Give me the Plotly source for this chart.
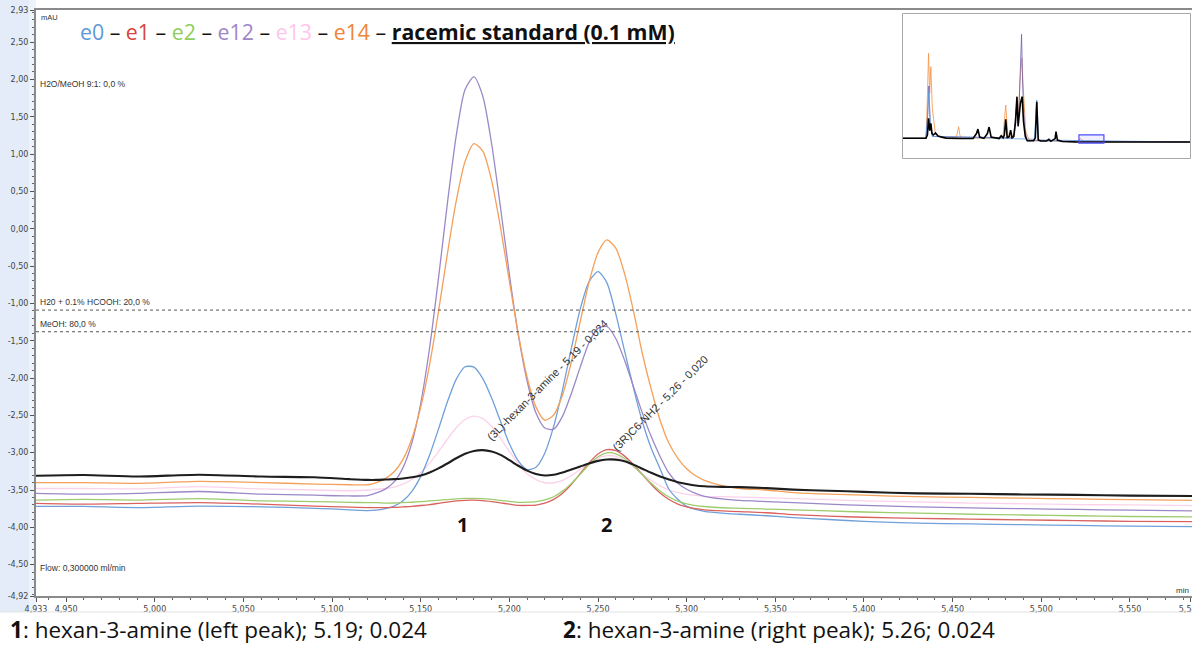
import plotly.graph_objects as go

# ---------------- data ----------------
time_min = [4.933, 4.96, 4.99, 5.025, 5.06, 5.09, 5.11, 5.12, 5.125,
            5.13, 5.135, 5.14, 5.145, 5.15, 5.155, 5.16, 5.165, 5.17, 5.175,
            5.18, 5.185, 5.19, 5.195, 5.20, 5.205, 5.21, 5.215, 5.22, 5.225,
            5.23, 5.235, 5.24, 5.245, 5.25, 5.255, 5.26, 5.265, 5.27, 5.275,
            5.28, 5.285, 5.29, 5.295, 5.30, 5.305, 5.31,
            5.32, 5.33, 5.345, 5.36, 5.38, 5.40, 5.43, 5.46, 5.49, 5.52, 5.55, 5.585]

e0 = [-3.72, -3.72, -3.735, -3.715, -3.725, -3.745, -3.765, -3.775, -3.77,
      -3.75, -3.715, -3.645, -3.517, -3.317, -3.032, -2.685, -2.321, -2.018, -1.849,
      -1.855, -2.009, -2.269, -2.58, -2.88, -3.11, -3.226, -3.196, -3.004, -2.645,
      -2.154, -1.595, -1.071, -0.705, -0.575, -0.725, -1.14, -1.64, -2.135, -2.585,
      -2.94, -3.215, -3.49, -3.625, -3.72, -3.76, -3.785,
      -3.81, -3.825, -3.845, -3.87, -3.895, -3.92, -3.945, -3.955, -3.965, -3.975, -3.985, -3.99]

e1 = [-3.68, -3.69, -3.68, -3.67, -3.69, -3.715, -3.73, -3.735, -3.735,
      -3.735, -3.733, -3.726, -3.719, -3.708, -3.695, -3.678, -3.661, -3.647, -3.638,
      -3.637, -3.643, -3.656, -3.672, -3.69, -3.706, -3.707, -3.702, -3.677, -3.626,
      -3.543, -3.423, -3.279, -3.133, -3.017, -2.96, -2.974, -3.046, -3.161, -3.294,
      -3.426, -3.54, -3.627, -3.688, -3.727, -3.751, -3.765,
      -3.78, -3.79, -3.805, -3.83, -3.85, -3.865, -3.88, -3.89, -3.90, -3.91, -3.92, -3.925]

e2 = [-3.635, -3.625, -3.635, -3.615, -3.645, -3.655, -3.665, -3.67, -3.67,
      -3.675, -3.674, -3.669, -3.664, -3.657, -3.647, -3.638, -3.628, -3.618, -3.613,
      -3.612, -3.615, -3.625, -3.638, -3.652, -3.665, -3.663, -3.656, -3.633, -3.591,
      -3.515, -3.411, -3.287, -3.158, -3.055, -3.003, -3.015, -3.078, -3.178, -3.295,
      -3.41, -3.514, -3.594, -3.649, -3.687, -3.708, -3.721,
      -3.738, -3.745, -3.755, -3.765, -3.78, -3.795, -3.81, -3.825, -3.835, -3.845, -3.855, -3.86]

e12 = [-3.545, -3.555, -3.545, -3.52, -3.555, -3.57, -3.58, -3.575, -3.54,
       -3.489, -3.392, -3.20, -2.868, -2.339, -1.594, -0.665, 0.335, 1.245, 1.865,
       2.035, 1.775, 1.135, 0.281, -0.613, -1.42, -2.04, -2.47, -2.67, -2.685,
       -2.51, -2.203, -1.851, -1.521, -1.335, -1.31, -1.47, -1.765, -2.115, -2.47,
       -2.785, -3.05, -3.275, -3.41, -3.49, -3.545, -3.585,
       -3.62, -3.64, -3.655, -3.67, -3.69, -3.705, -3.725, -3.74, -3.75, -3.76, -3.77, -3.78]

e13 = [-3.48, -3.48, -3.485, -3.455, -3.485, -3.50, -3.51, -3.50, -3.49,
       -3.48, -3.46, -3.422, -3.36, -3.267, -3.14, -2.985, -2.82, -2.667, -2.556,
       -2.51, -2.543, -2.65, -2.81, -2.983, -3.147, -3.283, -3.36, -3.403, -3.403,
       -3.37, -3.305, -3.226, -3.141, -3.073, -3.039, -3.05, -3.105, -3.19, -3.285,
       -3.37, -3.445, -3.50, -3.535, -3.56, -3.572, -3.585,
       -3.59, -3.595, -3.605, -3.615, -3.63, -3.645, -3.66, -3.675, -3.685, -3.695, -3.70, -3.71]

e14 = [-3.40, -3.40, -3.41, -3.385, -3.40, -3.42, -3.43, -3.43, -3.40,
       -3.347, -3.255, -3.09, -2.81, -2.39, -1.82, -1.11, -0.34, 0.37, 0.90,
       1.14, 1.04, 0.642, 0.016, -0.704, -1.41, -1.99, -2.39, -2.565, -2.495,
       -2.225, -1.78, -1.24, -0.71, -0.32, -0.15, -0.26, -0.605, -1.105, -1.675,
       -2.15, -2.565, -2.875, -3.075, -3.215, -3.31, -3.37,
       -3.44, -3.48, -3.50, -3.535, -3.555, -3.57, -3.59, -3.60, -3.61, -3.62, -3.63, -3.64]

racemic = [-3.31, -3.30, -3.32, -3.295, -3.32, -3.33, -3.355, -3.365, -3.365,
           -3.36, -3.355, -3.345, -3.33, -3.305, -3.265, -3.21, -3.145, -3.075, -3.015,
           -2.977, -2.966, -2.985, -3.03, -3.10, -3.175, -3.24, -3.285, -3.305, -3.295,
           -3.265, -3.225, -3.185, -3.145, -3.11, -3.092, -3.093, -3.115, -3.16, -3.215,
           -3.27, -3.32, -3.36, -3.395, -3.42, -3.44, -3.45,
           -3.458, -3.462, -3.475, -3.495, -3.51, -3.525, -3.545, -3.55, -3.56, -3.565, -3.575, -3.58]

series_names = ["e0", "e1", "e2", "e12", "e13", "e14", "racemic standard (0.1 mM)"]
series_colors = ["#6fa0da", "#d9625f", "#9dcc6c", "#9b88c8", "#fcd2ea", "#f4a05a", "#1e1e1e"]
legend_colors = ["#5b9bd5", "#d64541", "#8fce5c", "#9e86c9", "#ffc6ea", "#ee8438"]

x_tick_vals = [4.933, 4.95, 5.0, 5.05, 5.1, 5.15, 5.2, 5.25, 5.3, 5.35, 5.4, 5.45, 5.5, 5.55, 5.584]
x_tick_labels = ["4,933", "4,950", "5,000", "5,050", "5,100", "5,150", "5,200", "5,250",
                 "5,300", "5,350", "5,400", "5,450", "5,500", "5,550", "5,584"]
y_tick_vals = [-4.92, -4.5, -4.0, -3.5, -3.0, -2.5, -2.0, -1.5, -1.0, -0.5, 0.0,
               0.5, 1.0, 1.5, 2.0, 2.5, 2.93]
y_tick_labels = ["-4,92", "-4,50", "-4,00", "-3,50", "-3,00", "-2,50", "-2,00", "-1,50",
                 "-1,00", "-0,50", "0,00", "0,50", "1,00", "1,50", "2,00", "2,50", "2,93"]

gradient_levels = [-1.09, -1.38]
gradient_labels = ["H20 + 0.1% HCOOH: 20,0 %", "MeOH: 80,0 %"]

peak_ids = ["1", "2"]
peak_id_x = [5.1738, 5.2545]
peak_id_y = -3.96

peak_tags = ["(3L)-hexan-3-amine - 5,19 - 0,024", "(3R)C6-NH2 - 5,26 - 0,020"]
peak_tag_x = [5.2215, 5.2850]
peak_tag_y = [-2.03, -2.33]

# overview inset (thumbnail of the whole run, arbitrary units)
inset_black_x = [0, 8.0, 8.5, 8.9, 9.3, 9.7, 10.1, 10.6, 11.3, 12.2, 13.5, 15, 20, 24.4, 25.6, 26.1,
                 26.7, 28.2, 29.4, 30.0, 30.7, 33.5, 34.2, 34.9, 35.3, 35.8, 36.3, 37.0, 37.5, 38.0,
                 38.6, 39.2, 39.7, 40.1, 40.5, 40.9, 41.5, 42.0, 42.6, 43.3, 45.5, 46.1, 46.6, 47.1,
                 48, 50, 50.8, 51.5, 53.0, 53.3, 53.8, 55.5, 60, 100]
inset_black_y = [13.7, 13.7, 16, 27.6, 19, 24.1, 17, 16, 17.4, 15.2, 14.5, 13.8, 13.6, 13.6, 17, 20.1,
                 14.5, 13.6, 17, 21.5, 14.5, 13.5, 15.5, 14, 16, 26.9, 14, 15, 19.4, 14,
                 15, 25, 42.6, 22, 30, 38, 42.6, 25, 15, 12, 12, 14, 39.1, 12.5,
                 11.8, 11.8, 13, 11.6, 13.5, 18.3, 12.5, 11.5, 11.2, 11.1]
inset_orange_x = [0, 8.0, 8.4, 8.9, 9.3, 9.7, 10.2, 10.6, 11.2, 12.5, 18.5, 19.4, 19.8, 20.3, 21,
                  34.8, 35.8, 36.6, 38.8, 39.6, 40.2, 40.8, 41.4, 42.0, 42.8, 44, 60.5, 61.8, 62.4,
                  63.0, 70, 100]
inset_orange_y = [13.7, 13.7, 35, 72.7, 45, 63.4, 35, 27.8, 18, 15, 13.8, 21.7, 16, 13.8, 13.7,
                  14, 36.8, 14, 16, 40, 30, 55, 69.4, 45, 18, 12.5, 11.6, 13.5, 12.5,
                  11.5, 11.2, 11.1]
inset_purple_x = [0, 8.0, 8.6, 9.0, 9.5, 10.3, 38.5, 39.5, 40.3, 40.9, 41.3, 41.7, 42.3, 43.2, 100]
inset_purple_y = [13.7, 13.7, 30, 50, 22, 15, 14, 35, 28, 60, 85.9, 50, 22, 12, 11.1]
inset_blue_x = [0, 8.0, 8.6, 9.0, 9.5, 10.3, 45.8, 46.6, 47.3, 100]
inset_blue_y = [13.7, 13.7, 30, 46, 24, 15, 13, 40.3, 12.5, 11.1]
inset_window_x = [61.3, 70.0]
inset_window_y = [10.4, 16.0]

# ---------------- figure ----------------
fig = go.Figure()
all_series = [e0, e1, e2, e12, e13, e14, racemic]
order = [4, 0, 1, 2, 3, 5, 6]
for i in order:
    fig.add_trace(go.Scatter(
        x=time_min, y=all_series[i], mode="lines", name=series_names[i],
        line=dict(color=series_colors[i], width=2.1 if i == 6 else 1.3,
                  shape="spline", smoothing=0.7),
        hoverinfo="skip", xaxis="x", yaxis="y"))

for xs, ys, col, w in [(inset_orange_x, inset_orange_y, "rgba(244,150,80,0.85)", 1.0),
                       (inset_purple_x, inset_purple_y, "rgba(110,95,175,0.8)", 1.0),
                       (inset_blue_x, inset_blue_y, "rgba(100,155,220,0.8)", 1.0),
                       (inset_black_x, inset_black_y, "#000000", 1.6)]:
    fig.add_trace(go.Scatter(x=xs, y=ys, mode="lines", line=dict(color=col, width=w),
                             hoverinfo="skip", xaxis="x2", yaxis="y2"))

small_font = dict(family="Liberation Sans, Arial, sans-serif", size=8.5, color="#333333")
tick_font = dict(family="DejaVu Sans, sans-serif", size=8, color="#444444")

fig.update_layout(
    width=1192, height=647, autosize=False,
    margin=dict(l=36, r=0, t=10, b=51, autoexpand=False),
    paper_bgcolor="white", plot_bgcolor="white",
    showlegend=False,
    xaxis=dict(domain=[0, 1], range=[4.933, 5.585], tickmode="array",
               tickvals=x_tick_vals, ticktext=x_tick_labels, ticks="outside",
               ticklen=4, tickcolor="#555555", tickfont=tick_font, automargin=False,
               showline=True, linecolor="#8a8a8a", linewidth=2, mirror=True,
               showgrid=False, zeroline=False, ticklabeloverflow="allow",
               minor=dict(tickmode="linear", tick0=4.93, dtick=0.01, ticks="outside",
                          ticklen=2, tickcolor="#666666")),
    yaxis=dict(domain=[0, 1], range=[-4.92, 2.93], tickmode="array",
               tickvals=y_tick_vals, ticktext=y_tick_labels, ticks="outside",
               ticklen=4, tickcolor="#555555", tickfont=tick_font, automargin=False,
               showline=True, linecolor="#8a8a8a", linewidth=2,
               showgrid=False, zeroline=False, ticklabeloverflow="allow",
               minor=dict(tickmode="linear", tick0=0, dtick=0.1, ticks="outside",
                          ticklen=2, tickcolor="#666666")),
    xaxis2=dict(domain=[0.75, 0.9983], range=[0, 100], anchor="y2", visible=False),
    yaxis2=dict(domain=[0.7474, 0.9932], range=[0, 100], anchor="x2", visible=False),
)

shapes = [
    dict(type="rect", xref="paper", yref="paper", x0=-0.0312, x1=-0.006, y0=-0.0273, y1=1.03,
         fillcolor="#e3ecf8", line=dict(width=0), layer="below"),
    dict(type="rect", xref="paper", yref="paper", x0=-0.006, x1=0, y0=-0.0273, y1=1.03,
         fillcolor="#edf3fb", line=dict(width=0), layer="below"),
    dict(type="line", xref="paper", yref="paper", x0=-0.0312, x1=1, y0=-0.0273, y1=-0.0273,
         line=dict(color="#e2e2e2", width=1)),
    dict(type="rect", xref="x2 domain", yref="y2 domain", x0=0, x1=1, y0=0, y1=1,
         fillcolor="white", line=dict(color="#8c8c8c", width=1.5), layer="below"),
    dict(type="rect", xref="x2", yref="y2", x0=inset_window_x[0], x1=inset_window_x[1],
         y0=inset_window_y[0], y1=inset_window_y[1], fillcolor="rgba(120,120,255,0.12)",
         line=dict(color="#4d4dff", width=1.2)),
]
for lvl in gradient_levels:
    shapes.append(dict(type="line", xref="paper", yref="y", x0=0, x1=1, y0=lvl, y1=lvl,
                       line=dict(color="#555555", width=1, dash="dot")))
fig.update_layout(shapes=shapes)

ann = []
legend_html = " – ".join(
    f'<span style="color:{c}">{n}</span>' for n, c in zip(series_names[:6], legend_colors))
legend_html += ' – <b><u>' + series_names[6] + '</u></b>'
ann.append(dict(text=legend_html, xref="paper", yref="paper", x=0.0363, y=0.964,
                xanchor="left", yanchor="middle", showarrow=False,
                font=dict(family="Open Sans, sans-serif", size=21.3, color="#111111")))
ann.append(dict(text="mAU", xref="paper", yref="paper", x=0.003, y=0.988, xanchor="left",
                yanchor="middle", showarrow=False, font=dict(small_font, size=7.5)))
ann.append(dict(text="H2O/MeOH 9:1: 0,0 %", xref="paper", yref="paper", x=0.0017, y=0.874,
                xanchor="left", yanchor="middle", showarrow=False, font=small_font))
for lvl, lab in zip(gradient_levels, gradient_labels):
    ann.append(dict(text=lab, xref="paper", yref="y", x=0.0017, y=lvl, xanchor="left",
                    yanchor="bottom", yshift=1, showarrow=False, font=small_font))
ann.append(dict(text="Flow: 0,300000 ml/min", xref="paper", yref="paper", x=0.0017, y=0.0478,
                xanchor="left", yanchor="middle", showarrow=False, font=small_font))
ann.append(dict(text="min", xref="paper", yref="paper", x=0.9995, y=0.0102, xanchor="right",
                yanchor="middle", showarrow=False, font=dict(small_font, size=8)))
for t, xv, yv in zip(peak_tags, peak_tag_x, peak_tag_y):
    ann.append(dict(text=t, x=xv, y=yv, xref="x", yref="y", showarrow=False, textangle=-45,
                    font=dict(family="Liberation Sans, Arial, sans-serif", size=11,
                              color="#333333")))
for t, xv in zip(peak_ids, peak_id_x):
    ann.append(dict(text="<b>" + t + "</b>", x=xv, y=peak_id_y, xref="x", yref="y",
                    showarrow=False, font=dict(family="Open Sans, sans-serif", size=20,
                                               color="#111111")))
bottom_font = dict(family="Open Sans, sans-serif", size=22.5, color="#111111")
ann.append(dict(text="<b>1</b>: hexan-3-amine (left peak); 5.19; 0.024", xref="paper",
                yref="paper", x=-0.0242, y=-0.0575, xanchor="left", yanchor="middle",
                showarrow=False, font=bottom_font))
ann.append(dict(text="<b>2</b>: hexan-3-amine (right peak); 5.26; 0.024", xref="paper",
                yref="paper", x=0.4542, y=-0.0575, xanchor="left", yanchor="middle",
                showarrow=False, font=bottom_font))
fig.update_layout(annotations=ann)

fig.write_html("out.html", config={"displayModeBar": False},
               post_script="document.body.style.margin='0';")
